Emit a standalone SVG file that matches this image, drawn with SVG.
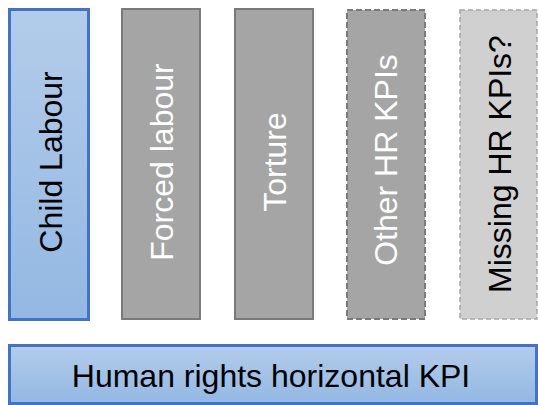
<svg xmlns="http://www.w3.org/2000/svg" width="538" height="405" viewBox="0 0 538 405">
<defs>
<linearGradient id="blue" x1="0" y1="0" x2="0" y2="1">
<stop offset="0" stop-color="#B3CCEA"/>
<stop offset="1" stop-color="#93B8E3"/>
</linearGradient>
</defs>
<style>
.lbl{font-family:"Liberation Sans",Arial,sans-serif;font-size:32px;text-anchor:middle}
.blue{fill:url(#blue);stroke:#4472C4;stroke-width:3}
.gray{fill:#A5A5A5;stroke:#7A7A7A;stroke-width:2}
.dash{stroke-dasharray:6 3}
.light{fill:#D0D0D0;stroke:#A5A5A5;stroke-width:1.5;stroke-dasharray:5 3}
.w{fill:#FFFFFF}
.k{fill:#000000}
</style>
<g id="child-labour">
<rect class="blue" x="9.5" y="9.5" width="79" height="310"/>
<text class="lbl k" transform="translate(62,162) rotate(-90)">Child Labour</text>
</g>
<g id="forced-labour">
<rect class="gray" x="122" y="9" width="78" height="310"/>
<text class="lbl w" transform="translate(173,162) rotate(-90)">Forced labour</text>
</g>
<g id="torture">
<rect class="gray" x="235" y="9" width="78" height="310"/>
<text class="lbl w" transform="translate(286,162) rotate(-90)">Torture</text>
</g>
<g id="other-hr-kpis">
<rect class="gray dash" x="347" y="10" width="78" height="309"/>
<text class="lbl w" transform="translate(397,160) rotate(-90)">Other HR KPIs</text>
</g>
<g id="missing-hr-kpis">
<rect class="light" x="460" y="10" width="77" height="309"/>
<text class="lbl k" transform="translate(511,164) rotate(-90)">Missing HR KPIs?</text>
</g>
<g id="human-rights-horizontal-kpi">
<rect class="blue" x="9.5" y="345.5" width="527" height="58"/>
<text class="lbl k" x="271" y="387">Human rights horizontal KPI</text>
</g>
<g id="connectors"/>
</svg>
